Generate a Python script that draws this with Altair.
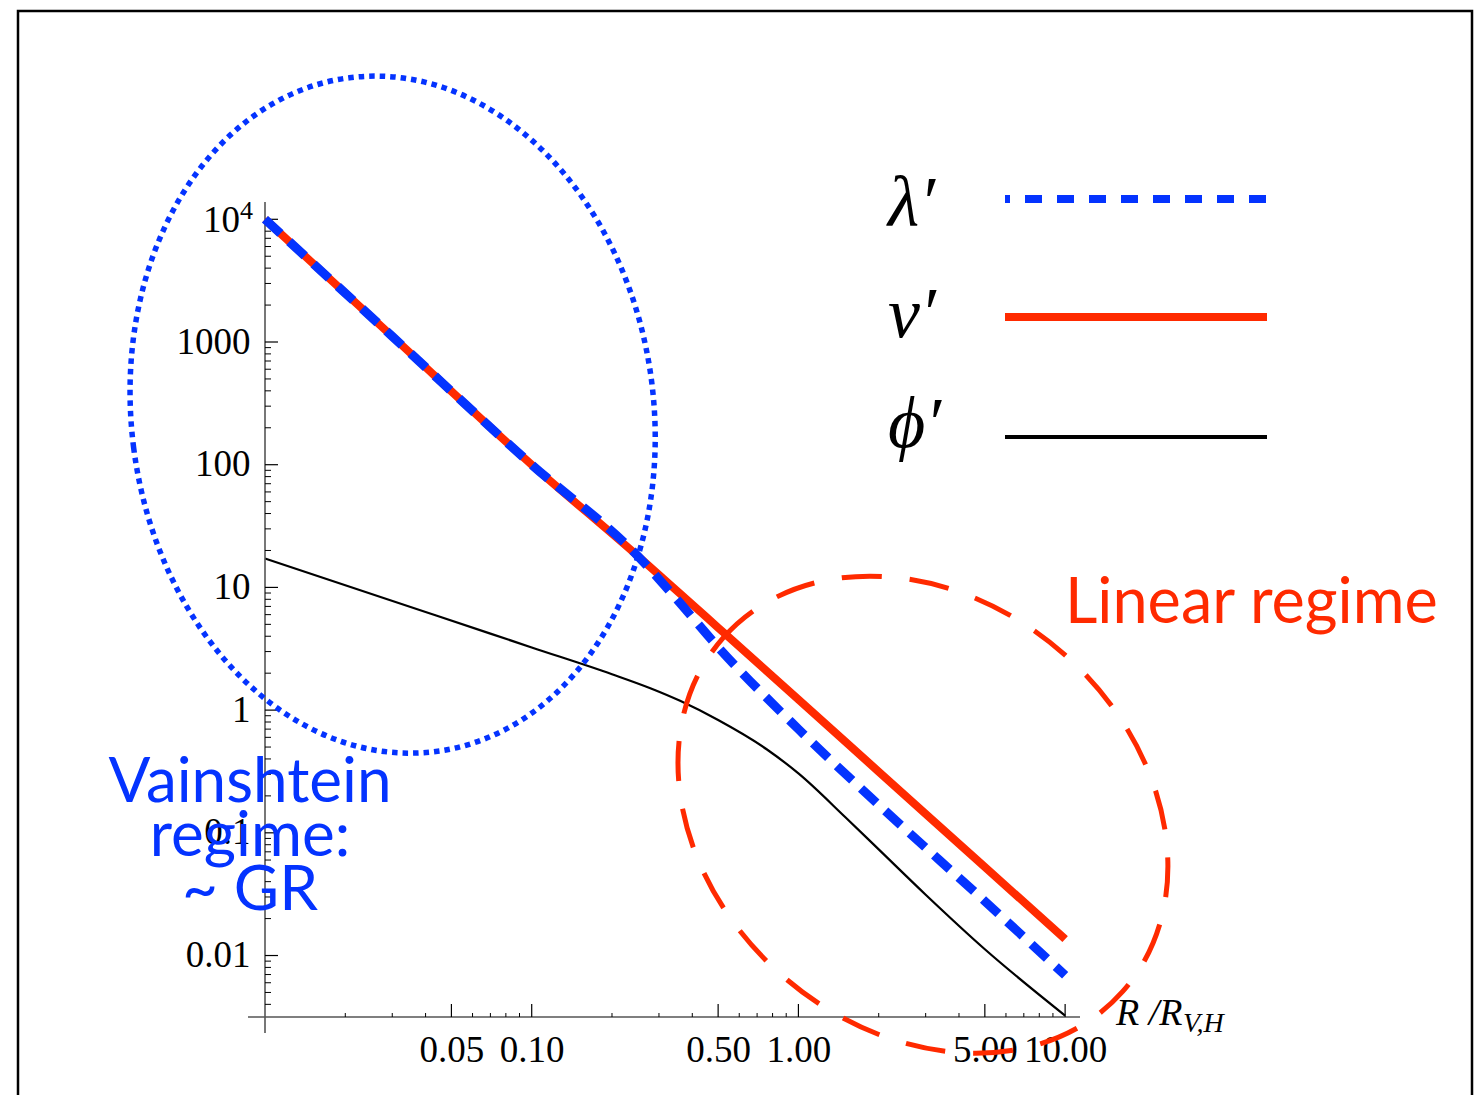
import altair as alt
import pandas as pd

# ---------------- data ----------------
R_nu = [0.01, 0.03, 0.1, 0.25, 0.35, 0.5, 1.0, 2.0, 5.0, 10.0]
nu = [10000, 1111, 100, 18.0, 9.4, 4.7, 1.22, 0.315, 0.0527, 0.0136]

R_lam = [0.01, 0.03, 0.1, 0.25, 0.35, 0.5, 1.0, 2.0, 5.0, 10.0]
lam = [10000, 1111, 100, 18.0, 8.0, 3.26, 0.70, 0.169, 0.0277, 0.0069]

R_phi = [0.01, 0.02, 0.04, 0.07, 0.1, 0.2, 0.28, 0.36, 0.5, 0.76, 1.0, 1.5, 2.0, 3.0, 5.0, 10.0]
phi = [17.2, 10.4, 6.3, 4.2, 3.24, 1.96, 1.50, 1.19, 0.83, 0.48, 0.305, 0.134, 0.0733, 0.0313, 0.01125, 0.00324]

x_tick_labels = [0.05, 0.1, 0.5, 1, 5, 10]
x_minor = [0.02, 0.03, 0.04, 0.06, 0.07, 0.08, 0.09, 0.2, 0.3, 0.4, 0.6, 0.7, 0.8, 0.9,
           2, 3, 4, 6, 7, 8, 9]
y_tick_labels = [0.01, 0.1, 1, 10, 100, 1000]
y_top_label = 10000          # drawn as "10" with superscript "4"
y_major = y_tick_labels + [y_top_label]
y_minor = [m * 10.0 ** k for k in range(-3, 4) for m in range(2, 10)]
y_minor = [v for v in y_minor if 0.0032 < v < 13800]

# annotation ellipses (centres in data units)
ell_R = [0.0301, 2.93]
ell_v = [256, 0.1406]

BLUE = "#0433FF"
RED = "#FF2A00"
W, H = 815, 815

xscale = alt.Scale(type="log", domain=[0.01, 11.37], nice=False)
yscale = alt.Scale(type="log", domain=[0.003155, 13835], nice=False)

df_nu = pd.DataFrame({"R": R_nu, "v": nu})
df_lam = pd.DataFrame({"R": R_lam, "v": lam})
df_phi = pd.DataFrame({"R": R_phi, "v": phi})

serif = "Liberation Serif"

xaxis = alt.Axis(values=x_tick_labels, format=".2f", ticks=False, tickSize=0, domain=False,
                 grid=False, labelFont=serif, labelFontSize=37, labelPadding=15,
                 labelOverlap=False, labelFlush=False, labelColor="black", title=None)
yaxis = alt.Axis(values=y_tick_labels, ticks=False, tickSize=0, domain=False, grid=False,
                 labelFont=serif, labelFontSize=37, labelPadding=15, labelOverlap=False,
                 labelFlush=False, labelColor="black", title=None,
                 labelExpr="datum.value >= 1 ? format(datum.value, 'd') : format(datum.value, '.2~f')")


def X(field):
    return alt.X(field, type="quantitative", scale=xscale, axis=xaxis, title=None)


def Y(field):
    return alt.Y(field, type="quantitative", scale=yscale, axis=yaxis, title=None)


phi_line = alt.Chart(df_phi).mark_line(color="black", strokeWidth=2.2, interpolate="monotone").encode(
    x=X("R"), y=Y("v"))
nu_line = alt.Chart(df_nu).mark_line(color=RED, strokeWidth=8, interpolate="monotone").encode(
    x=X("R"), y=Y("v"))
lam_line = alt.Chart(df_lam).mark_line(color=BLUE, strokeWidth=9, strokeDash=[21, 12],
                                       interpolate="monotone").encode(x=X("R"), y=Y("v"))

one = pd.DataFrame({"a": [0]})
top_df = pd.DataFrame({"v": [y_top_label]})

# the 10^4 label
ten_txt = alt.Chart(top_df).mark_text(text="10", font=serif, fontSize=37, color="black",
                                      align="right", baseline="middle", dy=2).encode(
    x=alt.value(-25), y=Y("v"))
four_txt = alt.Chart(top_df).mark_text(text="4", font=serif, fontSize=26, color="black",
                                       align="left", baseline="alphabetic", dy=0).encode(
    x=alt.value(-25), y=Y("v"))

# axis lines and ticks (Mathematica style, ticks pointing inward)
yline = alt.Chart(one).mark_rule(color="#555555", strokeWidth=1.6).encode(
    x=alt.value(0), y=alt.value(0), y2=alt.value(831))
xline = alt.Chart(one).mark_rule(color="#555555", strokeWidth=1.6).encode(
    x=alt.value(-17), x2=alt.value(W), y=alt.value(H))

ymaj = alt.Chart(pd.DataFrame({"v": y_major})).mark_rule(color="black", strokeWidth=1.2).encode(
    y=Y("v"), x=alt.value(0), x2=alt.value(13))
ymin = alt.Chart(pd.DataFrame({"v": y_minor})).mark_rule(color="black", strokeWidth=1).encode(
    y=Y("v"), x=alt.value(0), x2=alt.value(6))
xmaj = alt.Chart(pd.DataFrame({"v": x_tick_labels})).mark_rule(color="black", strokeWidth=1.2).encode(
    x=X("v"), y=alt.value(H), y2=alt.value(H - 13))
xmin = alt.Chart(pd.DataFrame({"v": x_minor})).mark_rule(color="black", strokeWidth=1).encode(
    x=X("v"), y=alt.value(H), y2=alt.value(H - 4))

# ellipses
blue_ell = alt.Chart(pd.DataFrame({"R": [ell_R[0]], "v": [ell_v[0]]})).mark_point(
    shape="M -1 0 A 1 1.3007 0 0 1 1 0 A 1 1.3007 0 0 1 -1 0 Z",
    size=272700, angle=352.7, filled=False, fill="transparent", stroke=BLUE, strokeWidth=5.5,
    strokeDash=[5.5, 5], opacity=1,
).encode(x=X("R"), y=Y("v"))
red_ell = alt.Chart(pd.DataFrame({"R": [ell_R[1]], "v": [ell_v[1]]})).mark_point(
    shape="M -1 0 A 1 0.8014 0 0 1 1 0 A 1 0.8014 0 0 1 -1 0 Z",
    size=284700, angle=41.5, filled=False, fill="transparent", stroke=RED, strokeWidth=5,
    strokeDash=[40, 28], opacity=1,
).encode(x=X("R"), y=Y("v"))

# texts
linear_txt = alt.Chart(one).mark_text(text="Linear regime", font="Lato", fontSize=63, color=RED,
                                      align="left", baseline="alphabetic").encode(
    x=alt.value(800), y=alt.value(421))
vain_txt = alt.Chart(one).mark_text(text="Vainshtein\nregime:\n~ GR", lineBreak="\n", lineHeight=54,
                                    font="Lato", fontSize=62, color=BLUE, align="center",
                                    baseline="alphabetic").encode(
    x=alt.value(-15), y=alt.value(600))

xt1 = alt.Chart(one).mark_text(text="R /R", font=serif, fontStyle="italic", fontSize=38,
                               color="black", align="left", baseline="alphabetic").encode(
    x=alt.value(851), y=alt.value(823))
xt2 = alt.Chart(one).mark_text(text="V,H", font=serif, fontStyle="italic", fontSize=28,
                               color="black", align="left", baseline="alphabetic").encode(
    x=alt.value(918), y=alt.value(830))

# legend
leg_names = ["\u03bb\u2032", "\u03bd\u2032", "\u03d5\u2032"]
leg_layers = []
for name, yb in zip(leg_names, [24, 135, 245]):
    leg_layers.append(alt.Chart(one).mark_text(text=name, font=serif, fontStyle="italic", fontSize=72,
                                               color="black", align="left", baseline="alphabetic").encode(
        x=alt.value(623), y=alt.value(yb)))
leg_lam = alt.Chart(one).mark_rule(color=BLUE, strokeWidth=8, strokeDash=[17, 15], strokeDashOffset=12).encode(
    x=alt.value(740), x2=alt.value(1002), y=alt.value(-3))
leg_nu = alt.Chart(one).mark_rule(color=RED, strokeWidth=8).encode(
    x=alt.value(740), x2=alt.value(1002), y=alt.value(115))
leg_phi = alt.Chart(one).mark_rule(color="black", strokeWidth=4).encode(
    x=alt.value(740), x2=alt.value(1002), y=alt.value(235))

border = alt.Chart(one).mark_rect(fillOpacity=0, stroke="black", strokeWidth=2.5).encode(
    x=alt.value(-247), x2=alt.value(1207), y=alt.value(-191), y2=alt.value(920))

chart = alt.layer(
    phi_line, yline, xline, ymaj, ymin, xmaj, xmin, ten_txt, four_txt,
    nu_line, lam_line, blue_ell, red_ell,
    linear_txt, vain_txt, xt1, xt2, *leg_layers, leg_lam, leg_nu, leg_phi, border,
).properties(
    width=W, height=H,
    autosize=alt.AutoSizeParams(type="none"),
    padding={"left": 265, "top": 202, "right": 399, "bottom": 78},
    background="white",
).configure_view(stroke=None)

chart.save("out.html", embed_options={"renderer": "svg", "actions": False})
